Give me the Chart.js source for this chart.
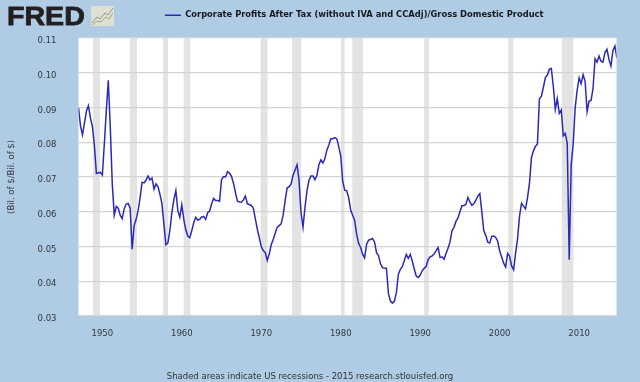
<!DOCTYPE html>
<html>
<head>
<meta charset="utf-8">
<title>Corporate Profits After Tax / GDP</title>
<script src="https://cdn.jsdelivr.net/npm/chart.js@4"></script>
<style>
  html, body { margin: 0; padding: 0; background: #b0cbe4; }
  #wrap { position: relative; width: 640px; height: 382px; overflow: hidden; }
  #logo {
    position: absolute; left: 7px; top: 3px; color: #231f20;
    font: bold 26px "Liberation Sans", sans-serif; line-height: 27px;
    -webkit-text-stroke: 0.8px #231f20; transform: scaleX(1.1); transform-origin: left top;
  }
  #icon { position: absolute; left: 91px; top: 6px; }
  #source {
    position: absolute; left: 0; width: 620px; top: 371px; text-align: center;
    color: #2f3438; font: 8.5px "DejaVu Sans", sans-serif; line-height: 11px;
  }
</style>
</head>
<body>
<div id="wrap">
  <canvas id="chart" width="640" height="382"></canvas>
  <div id="logo">FRED</div>
  <svg id="icon" width="23" height="20">
    <rect width="23" height="20" fill="#dfe0d4"/>
    <path d="M1 17 L6 11 L9 13 L14 7 L17 9 L22 2" fill="none" stroke="#8a9a9a" stroke-width="1"/>
    <path d="M1 19 L6 15 L10 16 L15 11 L18 13 L22 7" fill="none" stroke="#a3a86a" stroke-width="1"/>
  </svg>
  <div id="source">Shaded areas indicate US recessions - 2015 research.stlouisfed.org</div>
</div>
<script>
"use strict";

const seriesLabel = "Corporate Profits After Tax (without IVA and CCAdj)/Gross Domestic Product";
const axisLabel = "(Bil. of $/Bil. of $)";
const startYear = 1947;
const tickYears = [1950, 1960, 1970, 1980, 1990, 2000, 2010];

// quarterly
const profitRatio = [
  0.0899, 0.0847, 0.0821, 0.0855,
  0.0890, 0.0905, 0.0870, 0.0845,
  0.0790, 0.0710, 0.0712, 0.0713,
  0.0705, 0.0795, 0.0890, 0.0978,
  0.0842, 0.0680, 0.0590, 0.0615,
  0.0610, 0.0590, 0.0580, 0.0608,
  0.0622, 0.0624, 0.0610, 0.0492,
  0.0560, 0.0578, 0.0603, 0.0640,
  0.0685, 0.0683, 0.0691, 0.0703,
  0.0691, 0.0697, 0.0665, 0.0680,
  0.0672, 0.0650, 0.0623, 0.0565,
  0.0505, 0.0510, 0.0546, 0.0598,
  0.0635, 0.0661, 0.0603, 0.0584,
  0.0620, 0.0578, 0.0548, 0.0530,
  0.0525, 0.0545, 0.0568, 0.0584,
  0.0576, 0.0578, 0.0585, 0.0586,
  0.0578, 0.0597, 0.0602, 0.0622,
  0.0638, 0.0632, 0.0632, 0.0630,
  0.0692, 0.0701, 0.0700, 0.0715,
  0.0711, 0.0702, 0.0682, 0.0655,
  0.0630, 0.0628, 0.0627, 0.0634, 0.0645,
  0.0623, 0.0620, 0.0618, 0.0610,
  0.0580, 0.0550, 0.0525, 0.0500,
  0.0488, 0.0483, 0.0460, 0.0478,
  0.0505, 0.0520, 0.0538, 0.0555,
  0.0560, 0.0565, 0.0590, 0.0632,
  0.0668, 0.0672, 0.0680, 0.0705,
  0.0720, 0.0735, 0.0690, 0.0597,
  0.0555, 0.0612, 0.0660, 0.0690,
  0.0703, 0.0703, 0.0692, 0.0705,
  0.0735, 0.0749, 0.0740, 0.0752,
  0.0777, 0.0792, 0.0810, 0.0810,
  0.0813, 0.0810, 0.0787, 0.0760,
  0.0687, 0.0662, 0.0660, 0.0640,
  0.0605, 0.0590, 0.0575, 0.0535,
  0.0509, 0.0497, 0.0478, 0.0467,
  0.0506, 0.0518, 0.0520, 0.0523,
  0.0513, 0.0482, 0.0474, 0.0450,
  0.0439, 0.0437, 0.0437, 0.0365,
  0.0343, 0.0337, 0.0342, 0.0367,
  0.0420, 0.0434, 0.0442, 0.0460,
  0.0477, 0.0466, 0.0477, 0.0458,
  0.0435, 0.0415, 0.0411, 0.0418,
  0.0430, 0.0437, 0.0443, 0.0462,
  0.0470, 0.0473, 0.0478, 0.0488,
  0.0497, 0.0468, 0.0470, 0.0463,
  0.0480, 0.0495, 0.0513, 0.0545,
  0.0555, 0.0572, 0.0582, 0.0600,
  0.0617, 0.0618, 0.0621, 0.0641,
  0.0628, 0.0618, 0.0623, 0.0633,
  0.0645, 0.0652, 0.0600, 0.0545,
  0.0532, 0.0512, 0.0510, 0.0529,
  0.0530, 0.0526, 0.0515, 0.0487,
  0.0470, 0.0452, 0.0441, 0.0480,
  0.0472, 0.0444, 0.0433, 0.0480,
  0.0522, 0.0588, 0.0624, 0.0616, 0.0608,
  0.0640, 0.0682, 0.0756, 0.0775,
  0.0788, 0.0795, 0.0925, 0.0932,
  0.0958, 0.0986, 0.0993, 0.1010,
  0.1012, 0.0960, 0.0894, 0.0925,
  0.0883, 0.0892, 0.0818, 0.0825,
  0.0797, 0.0462, 0.0735, 0.0795,
  0.0899, 0.0950, 0.0985, 0.0968,
  0.0994, 0.0975, 0.0888, 0.0918,
  0.0920, 0.0955, 0.1040, 0.1030,
  0.1048, 0.1033, 0.1030, 0.1058,
  0.1067, 0.1038, 0.1019, 0.1063,
  0.1076, 0.1042,
];

const recessionStarts = [1948.83, 1953.48, 1957.64, 1960.23, 1969.91, 1973.86, 1980.03, 1981.45, 1990.5, 2001.07, 2007.82];
const recessionEnds = [1949.69, 1954.36, 1958.26, 1961.07, 1970.79, 1975.03, 1980.48, 1982.79, 1991.09, 2001.7, 2009.28];

// white plot area and recession bands go under the grid
const plotBackground = {
  id: "plotBackground",
  beforeDraw(chart) {
    const { ctx, chartArea: area, scales } = chart;
    ctx.save();
    ctx.fillStyle = "#ffffff";
    ctx.fillRect(area.left, area.top, area.width, area.height);
    ctx.fillStyle = "#e3e3e3";
    recessionStarts.forEach((start, i) => {
      const x0 = scales.x.getPixelForValue(start);
      const x1 = scales.x.getPixelForValue(recessionEnds[i]);
      ctx.fillRect(x0, area.top, x1 - x0, area.height);
    });
    ctx.restore();
  },
};

// the legend sits higher and right of the plot centre in the original
const legendShift = {
  id: "legendShift",
  afterLayout(chart) {
    chart.legend.left += 46;
    chart.legend.right += 46;
    chart.legend.top -= 8.5;
    chart.legend.bottom -= 8.5;
  },
};

new Chart(document.getElementById("chart"), {
  type: "line",
  data: {
    datasets: [
      {
        label: seriesLabel,
        data: profitRatio.map((v, i) => ({ x: startYear + i / 4, y: v })),
        borderColor: "#2a2ab8",
        backgroundColor: "#2a2ab8",
        borderWidth: 1.5,
        pointRadius: 0,
        pointStyle: "line",
        tension: 0,
      },
    ],
  },
  options: {
    responsive: false,
    animation: false,
    layout: { padding: { top: 11.5, left: 0, right: 23.5, bottom: 0 } },
    plugins: {
      tooltip: { enabled: false },
      legend: {
        position: "top",
        labels: {
          usePointStyle: true,
          pointStyleWidth: 16,
          color: "#15181c",
          font: { family: "DejaVu Sans", size: 8.35, weight: "bold" },
          padding: 8,
        },
      },
    },
    scales: {
      x: {
        type: "linear",
        min: startYear,
        max: 2014.7,
        afterBuildTicks: (axis) => { axis.ticks = tickYears.map((value) => ({ value })); },
        afterFit: (axis) => { axis.height = 66; },
        grid: { display: false },
        border: { display: false },
        ticks: {
          autoSkip: false,
          maxRotation: 0,
          padding: 5,
          color: "#33383d",
          font: { family: "DejaVu Sans", size: 8.5 },
          callback: (v) => String(v),
        },
      },
      y: {
        min: 0.03,
        max: 0.11,
        afterFit: (axis) => { axis.width = 78.5; },
        grid: { color: "#d4d4d4", lineWidth: 1.2, drawTicks: false },
        border: { display: false },
        title: {
          display: true,
          text: axisLabel,
          color: "#33383d",
          font: { family: "DejaVu Sans", size: 8.5 },
          padding: { top: 7, bottom: 0 },
        },
        ticks: {
          stepSize: 0.01,
          padding: 22,
          labelOffset: 3,
          color: "#33383d",
          font: { family: "DejaVu Sans", size: 8.5 },
          callback: (v) => v.toFixed(2),
        },
      },
    },
  },
  plugins: [plotBackground, legendShift],
});
</script>
</body>
</html>
